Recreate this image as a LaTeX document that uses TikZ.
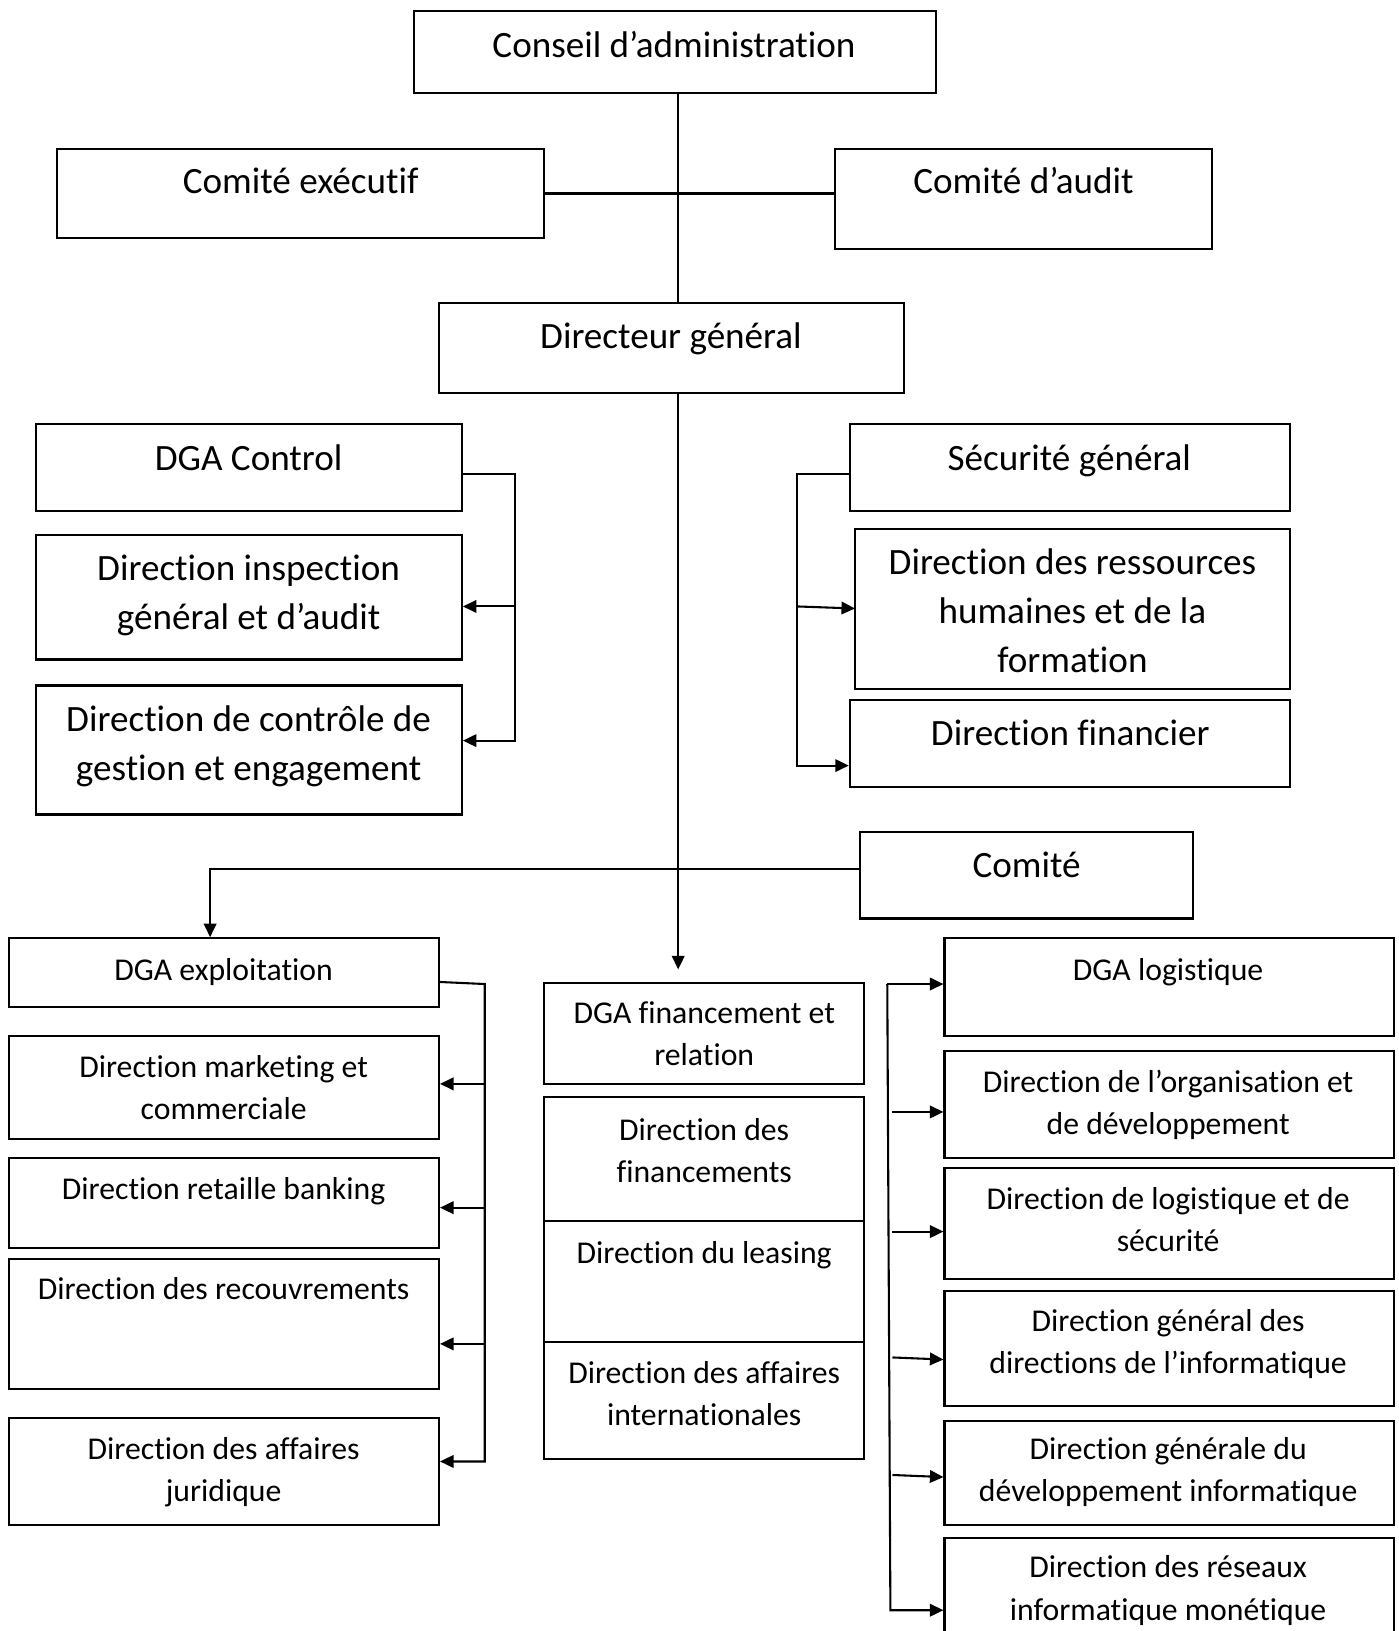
\documentclass[tikz,border=0pt]{standalone}
\usepackage{fontspec}
\setmainfont{Carlito}[Ligatures=NoCommon]
\usetikzlibrary{arrows.meta,calc}
\tikzset{
  orgbox/.style={draw, line width=1pt, inner sep=0pt, rectangle},
  bigtxt/.style={font=\fontsize{17.85pt}{23.65pt}\selectfont, align=center, inner sep=0pt, anchor=base},
  smalltxt/.style={font=\fontsize{15.25pt}{20.25pt}\selectfont, align=center, inner sep=0pt, anchor=base},
  link/.style={line width=1pt},
  arr/.style={line width=1pt, -{Triangle[length=6.5pt,width=6pt]}},
}
% box from (x1,y1) to (x2,y2), y measured downwards
\newcommand{\orgrect}[5]{\node[orgbox, minimum width={(#4-#2)*0.5pt}, minimum height={(#5-#3)*0.5pt}] (#1) at ({(#2+#4)/2},{(#3+#5)/2}) {};}
\begin{document}
\begin{tikzpicture}[x=0.5pt, y=-0.5pt]
\useasboundingbox (0,0) rectangle (1344,1568);
\clip (0,0) rectangle (1344,1568);

% ---- boxes ----
\orgrect{cons}{398}{11}{900}{89}
\orgrect{cex}{55}{143}{523}{229}
\orgrect{caud}{803}{143}{1165}{239}
\orgrect{dg}{422}{291}{869}{378}
\orgrect{dgac}{35}{408}{444}{491}
\orgrect{dinsp}{35}{514}{444}{634}
\orgrect{dctrl}{35}{659}{444}{783}
\orgrect{secu}{817}{408}{1240}{491}
\orgrect{drh}{822}{509}{1240}{662}
\orgrect{dfin}{817}{673}{1240}{757}
\orgrect{comite}{827}{800}{1147}{883}
\orgrect{dgae}{9}{902}{422}{968}
\orgrect{dmkt}{9}{996}{422}{1095}
\orgrect{dret}{9}{1113}{422}{1200}
\orgrect{drec}{9}{1210}{422}{1335}
\orgrect{djur}{9}{1363}{422}{1466}
\orgrect{dgaf}{523}{945}{831}{1042}
\orgrect{dfinc}{523}{1055}{831}{1174}
\orgrect{dleas}{523}{1174}{831}{1290}
\orgrect{dint}{523}{1290}{831}{1403}
\orgrect{dgal}{908}{902}{1340}{996}
\orgrect{dorg}{908}{1010}{1340}{1113}
\orgrect{dlog}{908}{1123}{1340}{1230}
\orgrect{dgdi}{908}{1241}{1340}{1352}
\orgrect{dgdev}{908}{1366}{1340}{1466}
\orgrect{dres}{908}{1479}{1340}{1600}

% ---- labels (anchored at the baseline of the last line) ----
\node[bigtxt] (cons-t) at (648,55) {Conseil d’administration};
\node[bigtxt] (cex-t) at (289,186) {Comité exécutif};
\node[bigtxt] (caud-t) at (984,186) {Comité d’audit};
\node[bigtxt] (dg-t) at (645,335) {Directeur général};
\node[bigtxt] (dgac-t) at (239,452) {DGA Control};
\node[bigtxt] (dinsp-t) at (239,605.3) {Direction inspection\\général et d’audit};
\node[bigtxt] (dctrl-t) at (239,750.3) {Direction de contrôle de\\gestion et engagement};
\node[bigtxt] (secu-t) at (1028,452) {Sécurité général};
\node[bigtxt] (drh-t) at (1031,646.6) {Direction des ressources\\humaines et de la\\formation};
\node[bigtxt] (dfin-t) at (1029,717) {Direction financier};
\node[bigtxt] (comite-t) at (987,844) {Comité};

\node[smalltxt] (dgae-t) at (215,943) {DGA exploitation};
\node[smalltxt] (dmkt-t) at (215,1076.5) {Direction marketing et\\commerciale};
\node[smalltxt] (dret-t) at (215,1153) {Direction retaille banking};
\node[smalltxt] (drec-t) at (215,1249) {Direction des recouvrements};
\node[smalltxt] (djur-t) at (215,1443.5) {Direction des affaires\\juridique};
\node[smalltxt] (dgaf-t) at (677,1024.5) {DGA financement et\\relation};
\node[smalltxt] (dfinc-t) at (677,1136.5) {Direction des\\financements};
\node[smalltxt] (dleas-t) at (677,1215) {Direction du leasing};
\node[smalltxt] (dint-t) at (677,1370.5) {Direction des affaires\\internationales};
\node[smalltxt] (dgal-t) at (1123,943) {DGA logistique};
\node[smalltxt] (dorg-t) at (1123,1090.5) {Direction de l’organisation et\\de développement};
\node[smalltxt] (dlog-t) at (1123,1203.5) {Direction de logistique et de\\sécurité};
\node[smalltxt] (dgdi-t) at (1123,1320.5) {Direction général des\\directions de l’informatique};
\node[smalltxt] (dgdev-t) at (1123,1443.5) {Direction générale du\\développement informatique};
\node[smalltxt] (dres-t) at (1123,1557.5) {Direction des réseaux\\informatique monétique};

% ---- main spine ----
\coordinate (spine) at (652,0);
\coordinate (midtip) at (652,932);
\draw[link] (cons.south -| spine) -- (dg.north -| spine);
\draw[link] (cex.east) -- (cex.east -| caud.west);
\draw[arr] (dg.south -| spine) -- (midtip);

% ---- Comité branch to DGA exploitation ----
\coordinate (cbend) at (202,835);
\draw[arr] (comite.west |- cbend) -- (cbend) -- (cbend |- dgae.north);

% ---- DGA Control bracket ----
\coordinate (lb1) at (495,456);
\coordinate (lb2) at (495,583);
\coordinate (lb3) at (495,712);
\draw[arr] (dgac.east |- lb1) -- (lb1) -- (lb3) -- (lb3 -| dctrl.east);
\draw[arr] (lb2) -- (lb2 -| dinsp.east);

% ---- Sécurité général bracket ----
\coordinate (rb1) at (766,456);
\coordinate (rb2) at (766,583);
\coordinate (rb3) at (766,736);
\draw[arr] (secu.west |- rb1) -- (rb1) -- (rb3) -- (rb3 -| dfin.west);
\draw[arr] (rb2) -- (822,585);

% ---- DGA exploitation bracket ----
\coordinate (eb0) at (466,946);
\coordinate (eb1) at (466,1042);
\coordinate (eb2) at (466,1161);
\coordinate (eb3) at (466,1292);
\coordinate (eb4) at (466,1405);
\draw[arr] (422,944) -- (eb0) -- (eb4) -- (eb4 -| djur.east);
\draw[arr] (eb1) -- (eb1 -| dmkt.east);
\draw[arr] (eb2) -- (eb2 -| dret.east);
\draw[arr] (eb3) -- (eb3 -| drec.east);

% ---- DGA logistique bracket ----
\coordinate (gb0) at (853,946);
\coordinate (gb5) at (856,1548);
\draw[arr] (gb0) -- (gb0 -| dgal.west);
\draw[arr] (gb0) -- (gb5) -- (gb5 -| dres.west);
\draw[arr] (858,1069) -- (dorg.west |- 0,1069);
\draw[arr] (858,1184) -- (dlog.west |- 0,1184);
\draw[arr] (858,1305) -- (dgdi.west |- 0,1307);
\draw[arr] (858,1418) -- (dgdev.west |- 0,1420);
\end{tikzpicture}
\end{document}
